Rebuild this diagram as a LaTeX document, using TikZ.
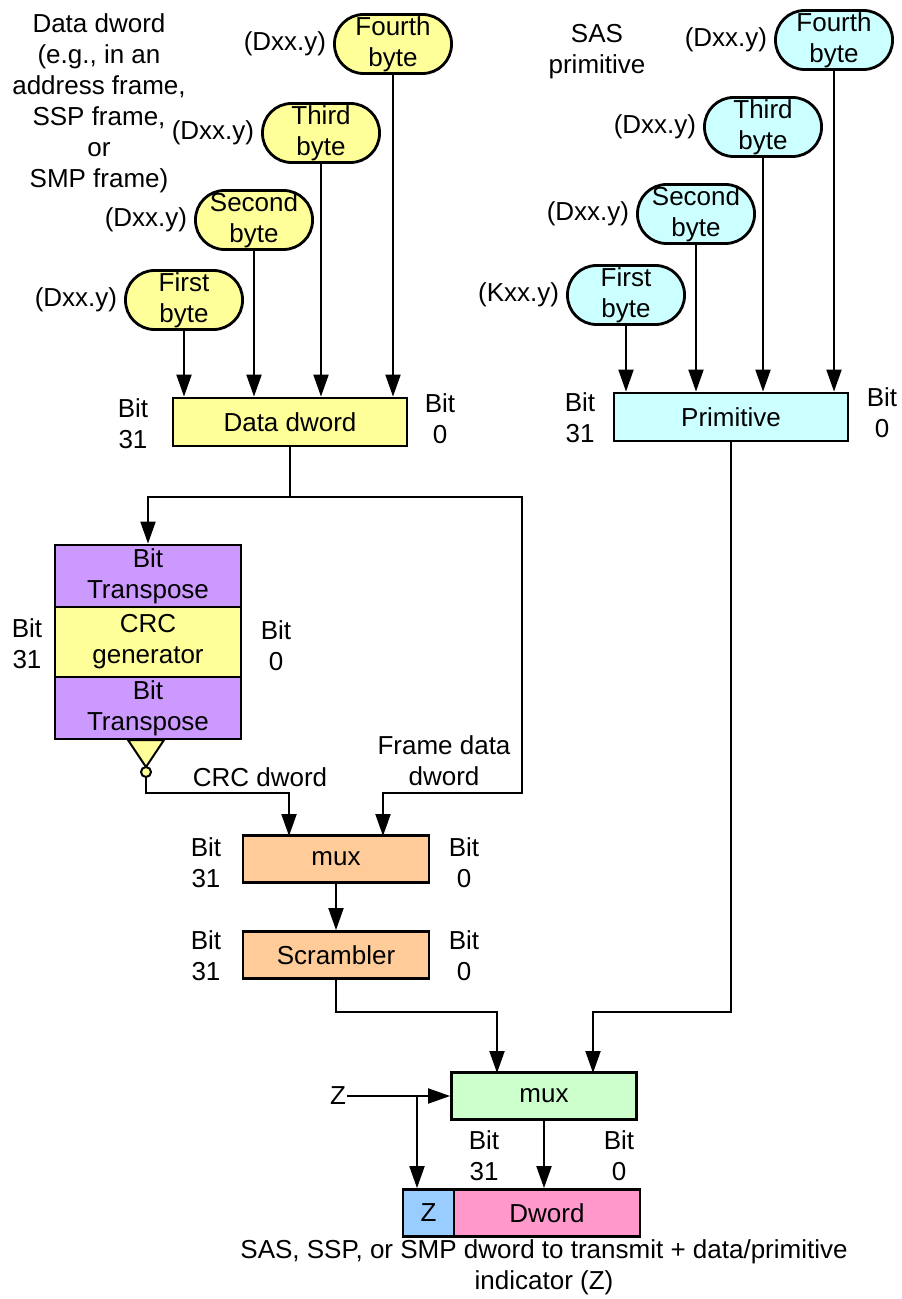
\documentclass[tikz,border=0pt]{standalone}
\usepackage{fontspec}
\setmainfont{Liberation Sans}
\usetikzlibrary{arrows.meta}
\definecolor{DataYellow}{RGB}{255,255,153}
\definecolor{PrimCyan}{RGB}{204,255,255}
\definecolor{TransPurple}{RGB}{204,153,255}
\definecolor{MuxOrange}{RGB}{255,204,153}
\definecolor{MuxGreen}{RGB}{204,255,204}
\definecolor{ZBlue}{RGB}{153,204,255}
\definecolor{DwordPink}{RGB}{255,153,204}

\begin{document}
\begin{tikzpicture}[x=0.5pt,y=-0.5pt,>={Triangle[length=11pt,width=7.5pt]},line width=1pt,
  every node/.style={align=center,inner sep=0pt,font=\fontsize{13}{15.5}\selectfont},
  byte/.style={draw,line width=1.4pt,rounded corners=14.5pt,minimum width=58.5pt,minimum height=29.5pt},
  blk/.style={draw,line width=1.4pt,minimum width=93pt,minimum height=23.5pt}]
\useasboundingbox (0,0) rectangle (901,1299);

% data dword side
\node (dlabel) at (99,103) {Data dword\\(e.g., in an\\address frame,\\SSP frame,\\or\\SMP frame)};
\node[byte,fill=DataYellow] (d4) at (393,44) {Fourth\\byte};
\node[byte,fill=DataYellow] (d3) at (321,133) {Third\\byte};
\node[byte,fill=DataYellow] (d2) at (254,220) {Second\\byte};
\node[byte,fill=DataYellow] (d1) at (184,300) {First\\byte};
\node[left=3pt] (d4c) at (d4.west) {(Dxx.y)};
\node[left=3pt] (d3c) at (d3.west) {(Dxx.y)};
\node[left=3pt] (d2c) at (d2.west) {(Dxx.y)};
\node[left=3pt] (d1c) at (d1.west) {(Dxx.y)};
\node[blk,fill=DataYellow,minimum width=117pt,minimum height=24pt] (dd) at (290,422) {Data dword};
\node (ddl) at (133,424) {Bit\\31};
\node (ddr) at (440,419) {Bit\\0};
\foreach \b in {d1,d2,d3,d4}
  \draw[->] (\b.south) -- (\b.south |- dd.north);

% primitive side
\node (plabel) at (597,52) {SAS\\primitive};
\node[byte,fill=PrimCyan] (p4) at (834,40) {Fourth\\byte};
\node[byte,fill=PrimCyan] (p3) at (763,127) {Third\\byte};
\node[byte,fill=PrimCyan] (p2) at (696,214) {Second\\byte};
\node[byte,fill=PrimCyan] (p1) at (626,295) {First\\byte};
\node[left=3pt] (p4c) at (p4.west) {(Dxx.y)};
\node[left=3pt] (p3c) at (p3.west) {(Dxx.y)};
\node[left=3pt] (p2c) at (p2.west) {(Dxx.y)};
\node[left=3pt] (p1c) at (p1.west) {(Kxx.y)};
\node[blk,fill=PrimCyan,minimum width=117pt,minimum height=24pt] (prim) at (731,417) {Primitive};
\node (priml) at (580,418) {Bit\\31};
\node (primr) at (882,413) {Bit\\0};
\foreach \b in {p1,p2,p3,p4}
  \draw[->] (\b.south) -- (\b.south |- prim.north);

% crc stack
\node[blk,fill=TransPurple,minimum height=31pt] (tr1) at (148,576) {Bit\\Transpose};
\node[blk,fill=DataYellow,minimum height=35pt] (crc) at (148,642) {CRC\\generator};
\node[blk,fill=TransPurple,minimum height=31pt] (tr2) at (148,708) {Bit\\Transpose};
\node (crcl) at (27,644) {Bit\\31};
\node (crcr) at (276,646) {Bit\\0};
\draw[fill=DataYellow] (128,740) -- (164,740) -- (146,767) -- cycle;
\node[circle,draw,fill=DataYellow,minimum size=5pt] (inv) at (146,772) {};

\coordinate (split) at (290,497);
\coordinate (fdturn) at (522,793);
\coordinate (crcturn) at (146,793);
\draw (dd.south) -- (split);
\draw[->] (split) -| (tr1.north);
\node[blk,fill=MuxOrange] (mux1) at (336,859) {mux};
\coordinate (m1a) at (289,836);
\coordinate (m1b) at (383,836);
\draw[->] (split) -| (fdturn) -| (m1b);
\draw[->] (inv.south) -- (crcturn) -| (m1a);
\node (crclab) at (260,777) {CRC dword};
\node (fdlab) at (444,761) {Frame data\\dword};
\node (mux1l) at (206,863) {Bit\\31};
\node (mux1r) at (464,863) {Bit\\0};

\node[blk,fill=MuxOrange] (scr) at (336,955) {Scrambler};
\node (scrl) at (206,956) {Bit\\31};
\node (scrr) at (464,956) {Bit\\0};
\draw[->] (mux1.south) -- (scr.north);

% output mux
\node[blk,fill=MuxGreen,minimum width=92.5pt] (mux2) at (544,1096) {mux};
\coordinate (scrturn) at (336,1012);
\coordinate (primturn) at (731,1012);
\draw[->] (scr.south) -- (scrturn) -| (497,1073);
\draw[->] (prim.south) -- (primturn) -| (593,1073);
\node (zin) at (338,1096) {Z};
\coordinate (zsplit) at (417,1096);
\draw[->] (zin.east) -- (mux2.west);
\node[blk,fill=ZBlue,minimum width=25.5pt] (zbox) at (428.5,1213) {Z};
\node[blk,fill=DwordPink] (dw) at (547,1213) {Dword};
\draw[->] (zsplit) -- (zsplit |- zbox.north);
\draw[->] (mux2.south) -- (mux2.south |- dw.north);
\node (mux2l) at (484,1156) {Bit\\31};
\node (mux2r) at (619,1156) {Bit\\0};
\node (cap) at (544,1267) {SAS, SSP, or SMP dword to transmit + data/primitive\\indicator (Z)};
\end{tikzpicture}
\end{document}
